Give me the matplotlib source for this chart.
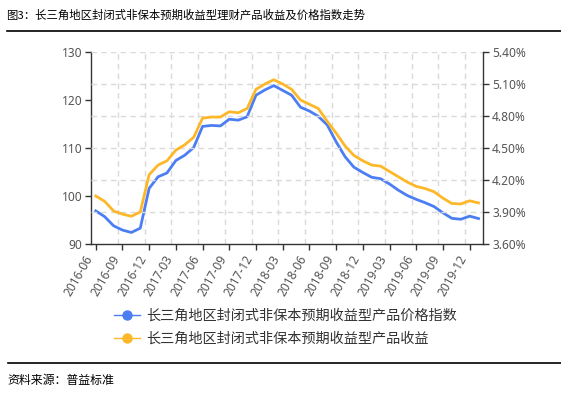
import matplotlib
matplotlib.use("Agg")
import matplotlib.pyplot as plt
from matplotlib.lines import Line2D
import numpy as np

plt.rcParams['font.family'] = ['Noto Sans', 'Noto Sans CJK SC', 'DejaVu Sans']

months = ['2016-06', '2016-07', '2016-08', '2016-09', '2016-10', '2016-11', '2016-12',
          '2017-01', '2017-02', '2017-03', '2017-04', '2017-05', '2017-06', '2017-07',
          '2017-08', '2017-09', '2017-10', '2017-11', '2017-12', '2018-01', '2018-02',
          '2018-03', '2018-04', '2018-05', '2018-06', '2018-07', '2018-08', '2018-09',
          '2018-10', '2018-11', '2018-12', '2019-01', '2019-02', '2019-03', '2019-04',
          '2019-05', '2019-06', '2019-07', '2019-08', '2019-09', '2019-10', '2019-11',
          '2019-12', '2020-01']

price_index = [96.9, 95.7, 93.8, 92.9, 92.4, 93.3, 101.6, 104.0, 104.8, 107.4, 108.5,
               110.1, 114.5, 114.7, 114.6, 116.0, 115.8, 116.5, 121.0, 122.1, 123.0,
               122.0, 121.0, 118.5, 117.7, 116.6, 114.8, 111.3, 108.2, 106.0, 104.9,
               103.9, 103.6, 102.5, 101.2, 100.1, 99.3, 98.6, 97.8, 96.5, 95.35, 95.15,
               95.8, 95.3]

yield_pct = [4.05, 4.00, 3.91, 3.88, 3.86, 3.90, 4.25, 4.34, 4.38, 4.48, 4.53, 4.60,
             4.78, 4.79, 4.79, 4.84, 4.83, 4.87, 5.05, 5.10, 5.14, 5.10, 5.05, 4.95,
             4.91, 4.87, 4.75, 4.64, 4.52, 4.43, 4.38, 4.34, 4.33, 4.28, 4.23, 4.18,
             4.14, 4.12, 4.09, 4.03, 3.98, 3.975, 4.005, 3.985]

left_ticks = [90, 100, 110, 120, 130]
right_ticks = [3.60, 3.90, 4.20, 4.50, 4.80, 5.10, 5.40]

series_names = ['长三角地区封闭式非保本预期收益型产品价格指数',
                '长三角地区封闭式非保本预期收益型产品收益']
title = '图3：长三角地区封闭式非保本预期收益型理财产品收益及价格指数走势'
source = '资料来源：普益标准'

blue = '#4C7EF3'
yellow = '#FDB829'
grid_c = '#DADADA'
axis_c = '#333333'
label_c = '#555555'

W, H = 561, 395
fig = plt.figure(figsize=(W / 100, H / 100), dpi=100)
ax = fig.add_axes([91.3 / W, 1 - 244 / H, (483 - 91.3) / W, (244 - 52) / H])
ax2 = ax.twinx()

x = np.arange(len(months))
ax.set_xlim(-0.5, len(months) - 0.5)
ax.set_ylim(90, 130)
ax2.set_ylim(3.60, 5.40)

# grid lines
for gx in np.arange(2.5, len(months) - 0.5, 3):
    ax.axvline(gx, color=grid_c, lw=1, ls=(0, (4, 3)), zorder=0)
for gy in right_ticks[1:]:
    ax2.axhline(gy, color=grid_c, lw=1, ls=(0, (4, 3)), zorder=0)

ax.plot(x, price_index, color=blue, lw=2, zorder=3)
ax2.plot(x, yield_pct, color=yellow, lw=2, zorder=3)

ax.set_xticks(x[::3])
ax.set_xticklabels(months[::3], rotation=60, ha='right', va='top',
                   fontsize=8.6, color=label_c)
ax.set_yticks(left_ticks)
ax.set_yticklabels([str(v) for v in left_ticks], fontsize=8.6, color=label_c)
ax2.set_yticks(right_ticks)
ax2.set_yticklabels([f'{v:.2f}%' for v in right_ticks], fontsize=8.6, color=label_c)

for a in (ax, ax2):
    a.spines['top'].set_visible(False)
    for s in ('left', 'right', 'bottom'):
        a.spines[s].set_color(axis_c)
        a.spines[s].set_linewidth(1)
    a.tick_params(length=4.5, width=1, color=axis_c, pad=2)
ax.spines['right'].set_visible(False)
ax2.spines['left'].set_visible(False)
ax2.spines['bottom'].set_visible(False)

# legend
handles = [Line2D([], [], color=blue, lw=1, marker='o', markersize=7.5, markeredgewidth=0),
           Line2D([], [], color=yellow, lw=1, marker='o', markersize=7.5, markeredgewidth=0)]
fig.legend(handles, series_names, loc='upper left',
           bbox_to_anchor=(114 / W, 1 - 309 / H), frameon=False,
           prop={'family': ['Noto Sans CJK SC'], 'size': 10.2},
           handlelength=1.8, handletextpad=0.45, labelspacing=0.62, borderpad=0,
           borderaxespad=0, labelcolor='#333333')

# title and source
fig.text(6 / W, 1 - 15 / H, title, fontsize=8.2, va='center', ha='left',
         family=['Noto Sans CJK SC'], color='black')
fig.add_artist(Line2D([7 / W, 1], [1 - 30.5 / H, 1 - 30.5 / H], color='black', lw=1.2))
fig.add_artist(Line2D([8 / W, 1], [1 - 363.3 / H, 1 - 363.3 / H], color='black', lw=1.2))
fig.text(7 / W, 1 - 380.5 / H, source, fontsize=8.6, va='center', ha='left',
         family=['Noto Sans CJK SC'], color='black')

fig.savefig('out.png', dpi=100)
